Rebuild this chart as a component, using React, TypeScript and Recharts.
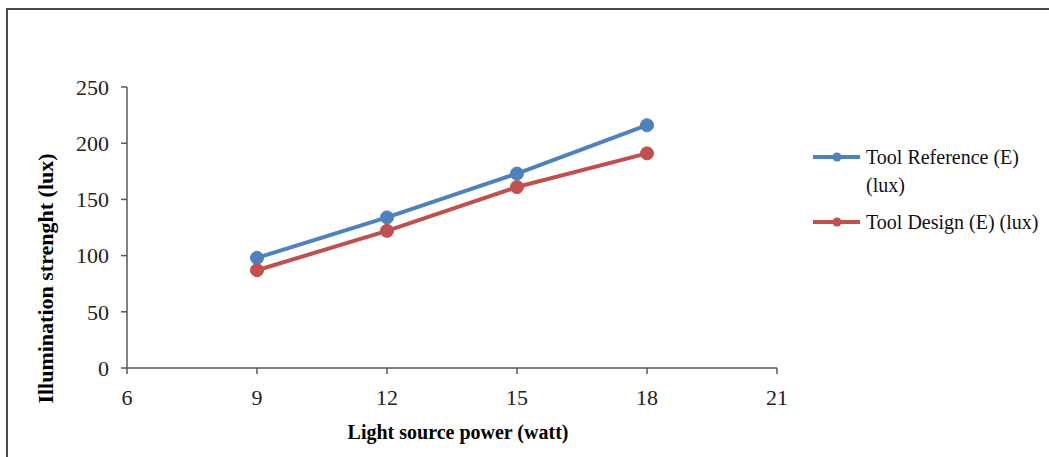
import React from 'react';
import { LineChart, Line, XAxis, YAxis } from 'recharts';

const power = [9, 12, 15, 18];
const toolReference = [98, 134, 173, 216];
const toolDesign = [87, 122, 161, 191];
const xTicks = [6, 9, 12, 15, 18, 21];
const yTicks = [0, 50, 100, 150, 200, 250];

const data = power.map((p, i) => ({
  power: p,
  reference: toolReference[i],
  design: toolDesign[i],
}));

const BLUE = '#4F81BD';
const RED = '#C0504D';
const AXIS = '#595959';
const FONT = '"Liberation Serif", "Times New Roman", serif';

// axis titles sit a bit off the axis centre, as in the original
const YTitle = (props: any) => {
  const { viewBox } = props;
  const cx = viewBox.x - 22;
  const cy = viewBox.y + viewBox.height / 2 + 51;
  return (
    <text
      x={cx}
      y={cy}
      transform={`rotate(-90, ${cx}, ${cy})`}
      textAnchor="middle"
      dominantBaseline="central"
      fontFamily={FONT}
      fontWeight="bold"
      fontSize={22}
      fill="#000"
    >
      Illumination strenght (lux)
    </text>
  );
};

const XTitle = (props: any) => {
  const { viewBox } = props;
  return (
    <text
      x={viewBox.x + viewBox.width / 2 + 6}
      y={viewBox.y + 64}
      textAnchor="middle"
      dominantBaseline="central"
      fontFamily={FONT}
      fontWeight="bold"
      fontSize={20}
      fill="#000"
    >
      Light source power (watt)
    </text>
  );
};

const LegendRow = ({ color, lines }: { color: string; lines: string[] }) => (
  <div style={{ display: 'flex', alignItems: 'flex-start' }}>
    <svg width={54} height={28} style={{ flex: 'none' }}>
      <line x1={1} y1={14} x2={48} y2={14} stroke={color} strokeWidth={4} />
      <circle cx={25} cy={14} r={4.5} fill={color} />
    </svg>
    <div style={{ lineHeight: '28px' }}>
      {lines.map((l) => (
        <div key={l}>{l}</div>
      ))}
    </div>
  </div>
);

export default function App() {
  return (
    <>
      <div
        style={{
          position: 'fixed',
          left: 6,
          top: 8,
          width: 1100,
          height: 500,
          border: '2px solid #4a4a4a',
          boxSizing: 'border-box',
          background: '#fff',
        }}
      />
      <div style={{ position: 'fixed', left: 0, top: 0, width: 1049, height: 457 }}>
        <LineChart
          width={1049}
          height={457}
          data={data}
          margin={{ top: 87, right: 272, bottom: 9, left: 67 }}
        >
          <XAxis
            dataKey="power"
            type="number"
            domain={[6, 21]}
            ticks={xTicks}
            height={80}
            tickSize={6}
            tickMargin={15}
            axisLine={{ stroke: AXIS, strokeWidth: 1.5 }}
            tickLine={{ stroke: AXIS, strokeWidth: 1.5 }}
            tick={{ fill: '#222', fontSize: 22, fontFamily: FONT }}
            label={<XTitle />}
          />
          <YAxis
            type="number"
            domain={[0, 250]}
            ticks={yTicks}
            width={60}
            tickSize={6}
            tickMargin={12}
            axisLine={{ stroke: AXIS, strokeWidth: 1.5 }}
            tickLine={{ stroke: AXIS, strokeWidth: 1.5 }}
            tick={{ fill: '#222', fontSize: 22, fontFamily: FONT }}
            label={<YTitle />}
          />
          <Line
            dataKey="reference"
            name="Tool Reference (E) (lux)"
            stroke={BLUE}
            strokeWidth={4}
            dot={{ r: 6.5, fill: BLUE, stroke: BLUE, strokeWidth: 1 }}
            isAnimationActive={false}
          />
          <Line
            dataKey="design"
            name="Tool Design (E) (lux)"
            stroke={RED}
            strokeWidth={4}
            dot={{ r: 6.5, fill: RED, stroke: RED, strokeWidth: 1 }}
            isAnimationActive={false}
          />
        </LineChart>
      </div>
      <div
        style={{
          position: 'fixed',
          left: 812,
          top: 143,
          fontFamily: FONT,
          fontSize: 20,
          color: '#111',
        }}
      >
        <LegendRow color={BLUE} lines={['Tool Reference (E)', '(lux)']} />
        <div style={{ height: 9 }} />
        <LegendRow color={RED} lines={['Tool Design (E) (lux)']} />
      </div>
    </>
  );
}
